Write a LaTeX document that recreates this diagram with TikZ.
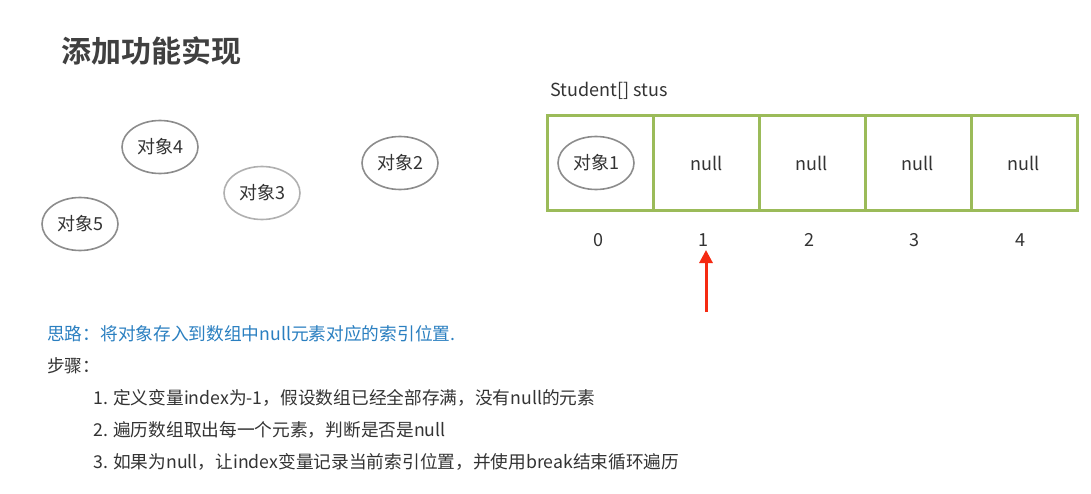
\documentclass[tikz,border=0pt]{standalone}
\usepackage{fontspec}
\setmainfont{Noto Sans CJK SC}
\newfontfamily\cjkbold{Noto Sans CJK SC Bold}
\usetikzlibrary{shapes.geometric,arrows.meta}
\definecolor{txt}{HTML}{333333}
\definecolor{title}{HTML}{404040}
\definecolor{cellgreen}{HTML}{9BBB59}
\definecolor{ellgray}{HTML}{8C8C8C}
\definecolor{ellgraylight}{HTML}{B0B0B0}
\definecolor{thinkblue}{HTML}{2A7FC0}
\definecolor{arrowred}{HTML}{F52A12}
\tikzset{
  obj/.style={ellipse, draw=ellgray, line width=1.6pt, minimum width=76pt, minimum height=53pt, inner sep=0pt, text=txt, font=\fontsize{18}{20}\selectfont},
  cell/.style={rectangle, draw=cellgreen, line width=3pt, minimum width=106pt, minimum height=95pt, inner sep=0pt, text=txt, font=\fontsize{18}{20}\selectfont},
  idx/.style={text=txt, font=\fontsize{18}{20}\selectfont, inner sep=0pt},
  line/.style={anchor=west, text=txt, font=\fontsize{17.7}{20}\selectfont, inner sep=0pt},
}
\begin{document}
\begin{tikzpicture}[x=1pt,y=-1pt]
\useasboundingbox (0,0) rectangle (1091,494);
\node[anchor=west, text=title, font=\cjkbold\fontsize{30}{34}\selectfont, inner sep=0pt] (title) at (61,51) {添加功能实现};
% loose objects
\node[obj] (o4) at (160,147) {对象4};
\node[obj] (o2) at (400,163) {对象2};
\node[obj, draw=ellgraylight] (o3) at (262,193) {对象3};
\node[obj] (o5) at (80,224) {对象5};
% array
\node[anchor=west, text=txt, font=\fontsize{18}{20}\selectfont, inner sep=0pt] (lbl) at (550,91) {Student[] stus};
\node[cell] (c0) at (600.5,163.5) {};
\node[cell] (c1) at (706.5,163.5) {null};
\node[cell] (c2) at (812,163.5) {null};
\node[cell] (c3) at (918,163.5) {null};
\node[cell] (c4) at (1024,163.5) {null};
\node[obj] (o1) at (596,163) {对象1};
\node[idx] (i0) at (598,240) {0};
\node[idx] (i1) at (703,240) {1};
\node[idx] (i2) at (809,240) {2};
\node[idx] (i3) at (914,240) {3};
\node[idx] (i4) at (1020,240) {4};
\coordinate (arrstart) at (706,312);
\coordinate (arrend) at (706,250);
\draw[arrowred, line width=3pt, -{Triangle[length=13pt,width=13pt]}] (arrstart) -- (arrend);
% text
\node[line, text=thinkblue] (think) at (47,334) {思路：将对象存入到数组中null元素对应的索引位置.};
\node[line] (steps) at (47,366) {步骤：};
\node[line] (s1) at (93,398) {1. 定义变量index为-1，假设数组已经全部存满，没有null的元素};
\node[line] (s2) at (93,430) {2. 遍历数组取出每一个元素，判断是否是null};
\node[line] (s3) at (93,462) {3. 如果为null，让index变量记录当前索引位置，并使用break结束循环遍历};
\end{tikzpicture}
\end{document}
